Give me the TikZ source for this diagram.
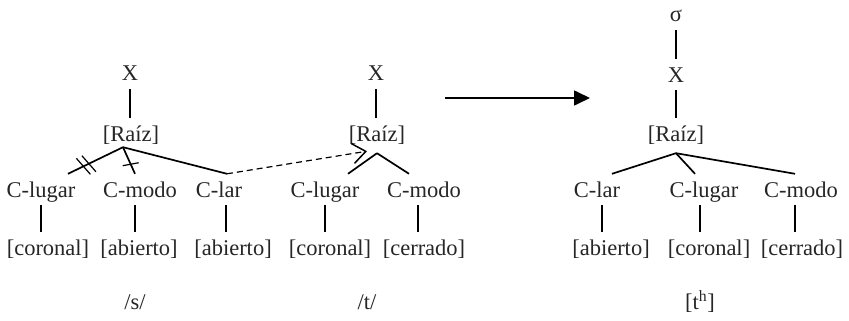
\documentclass[tikz,border=0pt]{standalone}
\usepackage{fontspec}
\setmainfont{Liberation Serif}
\usepackage{tikz}
\usetikzlibrary{arrows.meta}
\newcommand{\treew}{1.7pt}
\newcommand{\cutw}{1.2pt}

\begin{document}
\begin{tikzpicture}[x=1pt,y=-1pt]
    \useasboundingbox (0,0) rectangle (849,321);
    \begin{scope}
    %\draw[help lines] (0,0) grid (849,321);
        \tikzset{seg/.style = {anchor=base, inner xsep=0pt, inner ysep=3pt, text height=20pt, text depth=5pt, font=\fontsize{22.5}{26}\selectfont, text=black!85}}
        \tikzset{tier/.style = {line width=\treew, black}}
        \tikzset{cut/.style = {line width=\cutw, black}}

        % /s/
        \node[seg] (s-x) at (130,81) {X};
        \node[seg] (s-r) at (131,141) {[Raíz]};
        \node[seg] (s-lug) at (41,197) {C-lugar};
        \node[seg] (s-mod) at (140,197) {C-modo};
        \node[seg] (s-lar) at (219,197) {C-lar};
        \node[seg] (s-lug-f) at (48,255) {[coronal]};
        \node[seg] (s-mod-f) at (139,255) {[abierto]};
        \node[seg] (s-lar-f) at (233,255) {[abierto]};
        \node[seg] (s-seg) at (135,309) {/s/};

        % /t/
        \node[seg] (t-x) at (376,81) {X};
        \node[seg] (t-r) at (377,141) {[Raíz]};
        \node[seg] (t-lug) at (325,197) {C-lugar};
        \node[seg] (t-mod) at (424,197) {C-modo};
        \node[seg] (t-lug-f) at (330,255) {[coronal]};
        \node[seg] (t-mod-f) at (424,255) {[cerrado]};
        \node[seg] (t-seg) at (367,309) {/t/};

        % [th]
        \node[seg] (h-sig) at (676,22) {σ};
        \node[seg] (h-x) at (676,82) {X};
        \node[seg] (h-r) at (676,141) {[Raíz]};
        \node[seg] (h-lar) at (597,197) {C-lar};
        \node[seg] (h-lug) at (704,197) {C-lugar};
        \node[seg] (h-mod) at (801,197) {C-modo};
        \node[seg] (h-lar-f) at (611,255) {[abierto]};
        \node[seg] (h-lug-f) at (709,255) {[coronal]};
        \node[seg] (h-mod-f) at (802,255) {[cerrado]};
        \node[seg] (h-seg) at (700,309) {[t\textsuperscript{h}]};

        \coordinate (s-root) at ([xshift=-8pt,yshift=2pt]s-r.south);
        \coordinate (t-root) at ([yshift=-4pt]t-r.south);
        \coordinate (t-tip) at ([xshift=-10pt,yshift=-2pt]t-r.south);
        \coordinate (h-root) at ([yshift=-4pt]h-r.south);
        \coordinate (go-a) at (445,98);
        \coordinate (go-b) at (590,98);

        \draw[tier] (s-x.south) -- (s-x.south |- s-r.north);
        \draw[tier] (s-root) -- ([xshift=27pt]s-lug.north) coordinate (s-lug-e);
        \draw[tier] (s-root) -- ([xshift=-5pt]s-mod.north) coordinate (s-mod-e);
        \draw[tier] (s-root) -- ([xshift=8pt]s-lar.north) coordinate (s-lar-e);
        \draw[tier] (s-lug.south) -- (s-lug.south |- s-lug-f.north);
        \draw[tier] ([xshift=-5pt]s-mod.south) -- ([xshift=-5pt]s-mod.south |- s-mod-f.north);
        \draw[tier] ([xshift=7pt]s-lar.south) -- ([xshift=7pt]s-lar.south |- s-lar-f.north);

        \path (s-root) -- (s-lug-e) coordinate[pos=0.62] (cut1) coordinate[pos=0.72] (cut2);
        \path (s-root) -- (s-mod-e) coordinate[pos=0.64] (cut3);
        \draw[cut] (cut1) ++(-7,-8) -- ++(14,16);
        \draw[cut] (cut2) ++(-7,-8) -- ++(14,16);
        \draw[cut] (cut3) ++(-8,1.5) -- ++(16,-3);

        \draw[tier] (t-x.south) -- (t-x.south |- t-r.north);
        \draw[tier] (t-root) -- ([xshift=23pt]t-lug.north);
        \draw[tier] (t-root) -- ([xshift=-15pt]t-mod.north);
        \draw[tier] (t-lug.south) -- (t-lug.south |- t-lug-f.north);
        \draw[tier] ([xshift=-6pt]t-mod.south) -- ([xshift=-6pt]t-mod.south |- t-mod-f.north);

        \draw[line width=1.2pt, dash pattern=on 6pt off 4pt, -{Straight Barb[length=13pt,width=20pt,line width=1.5pt]}] (s-lar-e) -- (t-tip);
        \draw[line width=1.7pt, -{Triangle[length=16pt,width=15pt]}] (go-a) -- (go-b);

        \draw[tier] (h-sig.south) -- (h-x.north);
        \draw[tier] (h-x.south) -- (h-r.north);
        \draw[tier] (h-root) -- ([xshift=15pt]h-lar.north);
        \draw[tier] (h-root) -- ([xshift=-9pt]h-lug.north);
        \draw[tier] (h-root) -- ([xshift=-6pt]h-mod.north);
        \draw[tier] ([xshift=5pt]h-lar.south) -- ([xshift=5pt]h-lar.south |- h-lar-f.north);
        \draw[tier] ([xshift=-4pt]h-lug.south) -- ([xshift=-4pt]h-lug.south |- h-lug-f.north);
        \draw[tier] ([xshift=-6pt]h-mod.south) -- ([xshift=-6pt]h-mod.south |- h-mod-f.north);
    \end{scope}
\end{tikzpicture}
\end{document}
